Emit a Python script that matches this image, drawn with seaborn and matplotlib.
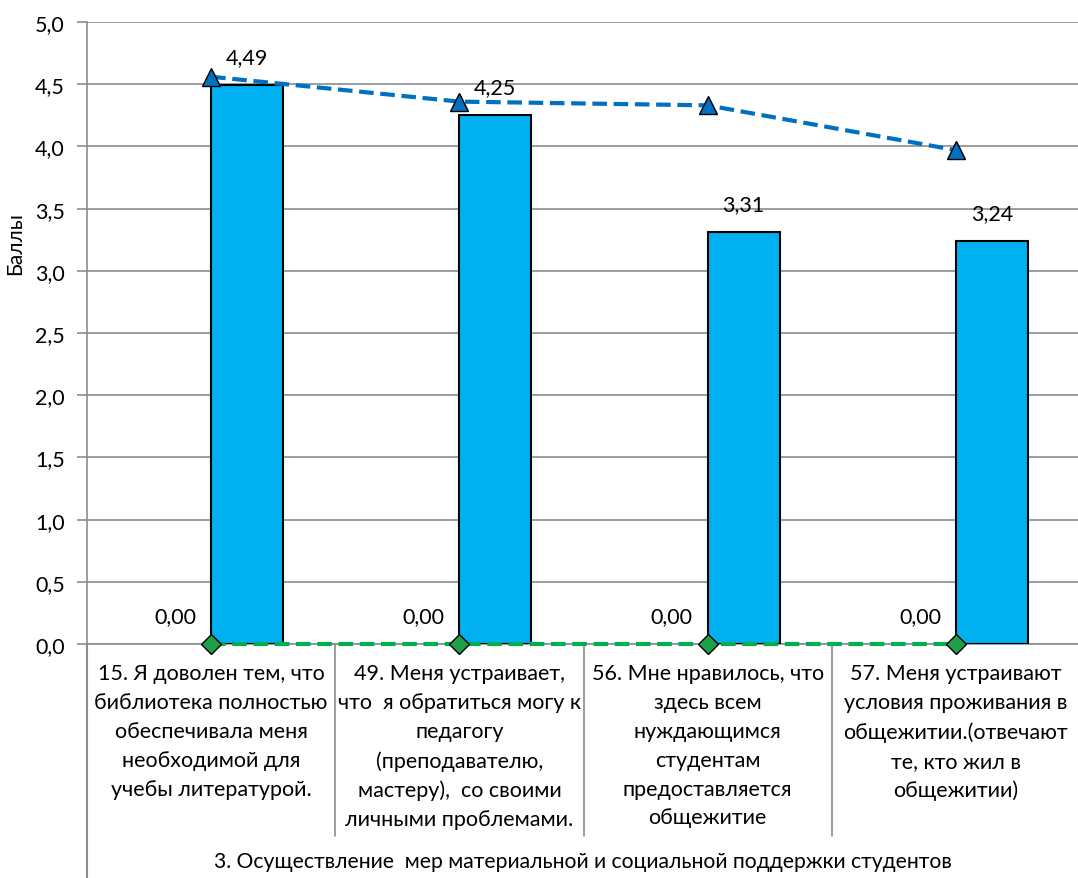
import matplotlib
matplotlib.use("Agg")
import matplotlib.pyplot as plt
import seaborn as sns
import pandas as pd
import numpy as np
from matplotlib.lines import Line2D

# Data
categories = [
    "15. Я доволен тем, что\nбиблиотека полностью\nобеспечивала меня\nнеобходимой для\nучебы литературой.",
    "49. Меня устраивает,\nчто  я обратиться могу к\nпедагогу\n(преподавателю,\nмастеру),  со своими\nличными проблемами.",
    "56. Мне нравилось, что\nздесь всем\nнуждающимся\nстудентам\nпредоставляется\nобщежитие",
    "57. Меня устраивают\nусловия проживания в\nобщежитии.(отвечают\nте, кто жил в\nобщежитии)",
]
zero_values = [0.00, 0.00, 0.00, 0.00]
bar_values = [4.49, 4.25, 3.31, 3.24]
line_values = [4.56, 4.36, 4.33, 3.97]
group_label = "3. Осуществление  мер материальной и социальной поддержки студентов"

sns.set_style("white")
plt.rcParams['font.family'] = ['Lato', 'DejaVu Sans']
for key in ["text.color", "axes.labelcolor", "xtick.color", "ytick.color"]:
    plt.rcParams[key] = "black"

df = pd.DataFrame({
    "cat": categories * 2,
    "series": ["zero"] * 4 + ["value"] * 4,
    "val": zero_values + bar_values,
})

fig = plt.figure(figsize=(10.78, 8.79), dpi=100)
ax = fig.add_axes([87 / 1078, (879 - 645) / 879, (1080 - 87) / 1078, (645 - 23) / 879])

sns.barplot(data=df, x="cat", y="val", hue="series", hue_order=["zero", "value"],
            palette={"zero": "#00B0F0", "value": "#00B0F0"}, width=0.58, saturation=1,
            edgecolor="black", linewidth=1.5, legend=False, ax=ax, zorder=3)

# zero bars have no visible outline
for p in ax.containers[0]:
    p.set_linewidth(0)

fmt = lambda v: f"{v:.2f}".replace(".", ",")
ax.bar_label(ax.containers[0], labels=[fmt(v) for v in zero_values], padding=13, fontsize=15.5)
ax.bar_label(ax.containers[1], labels=[fmt(v) for v in bar_values], padding=13, fontsize=15.5)

x = np.arange(len(categories))
sns.lineplot(x=x, y=line_values, color="#0070C0", linewidth=3, ax=ax, zorder=4)
ax.lines[-1].set_dashes([3.5, 1.6])
ax.lines[-1].set_marker("^")
ax.lines[-1].set_markersize(13)
ax.lines[-1].set_markerfacecolor("#0070C0")
ax.lines[-1].set_markeredgecolor("black")
ax.lines[-1].set_markeredgewidth(1)

sns.lineplot(x=x, y=zero_values, color="#00B050", linewidth=3, ax=ax, zorder=4)
ax.lines[-1].set_dashes([3.5, 1.6])
ax.lines[-1].set_marker("D")
ax.lines[-1].set_markersize(10)
ax.lines[-1].set_markerfacecolor("#1EA04A")
ax.lines[-1].set_markeredgecolor("black")
ax.lines[-1].set_markeredgewidth(1)
for ln in ax.lines[-2:]:
    ln.set_clip_on(False)

ax.set_xlim(-0.5, 3.5)
ax.set_ylim(0, 5)
ax.set_yticks(np.arange(0, 5.01, 0.5))
ax.set_yticklabels([f"{v:.1f}".replace(".", ",") for v in np.arange(0, 5.01, 0.5)], fontsize=15.5)
ax.yaxis.grid(True, color="#8C8C8C", linewidth=1.2)
ax.set_axisbelow(True)
ax.tick_params(axis="y", length=7, width=1.2, color="#8C8C8C", pad=9, left=True)
ax.tick_params(axis="x", length=0, pad=14)
ax.set_xticks(x)
ax.set_xticklabels(categories, fontsize=15.5, linespacing=1.55, va="top")
ax.set_xlabel("")
ax.set_ylabel("Баллы", fontsize=15)
ax.yaxis.set_label_coords(-0.062, 0.645)

for s in ["top", "right"]:
    ax.spines[s].set_visible(False)
ax.spines["left"].set_color("#8C8C8C")
ax.spines["left"].set_linewidth(1.2)
ax.spines["bottom"].set_color("#8C8C8C")
ax.spines["bottom"].set_linewidth(1.2)

# category separators and left axis extension below the plot
trans = ax.get_xaxis_transform()
for b in [0.5, 1.5, 2.5]:
    ax.add_line(Line2D([b, b], [0, -(837 - 645) / 622], transform=trans,
                       color="#8C8C8C", linewidth=1.2, clip_on=False))
ax.add_line(Line2D([-0.5, -0.5], [0, -(879 - 645) / 622], transform=trans,
                   color="#8C8C8C", linewidth=1.5, clip_on=False))

fig.text(583 / 1078, 1 - 862 / 879, group_label, ha="center", va="center", fontsize=15.2)

fig.savefig("out.png", dpi=100)
